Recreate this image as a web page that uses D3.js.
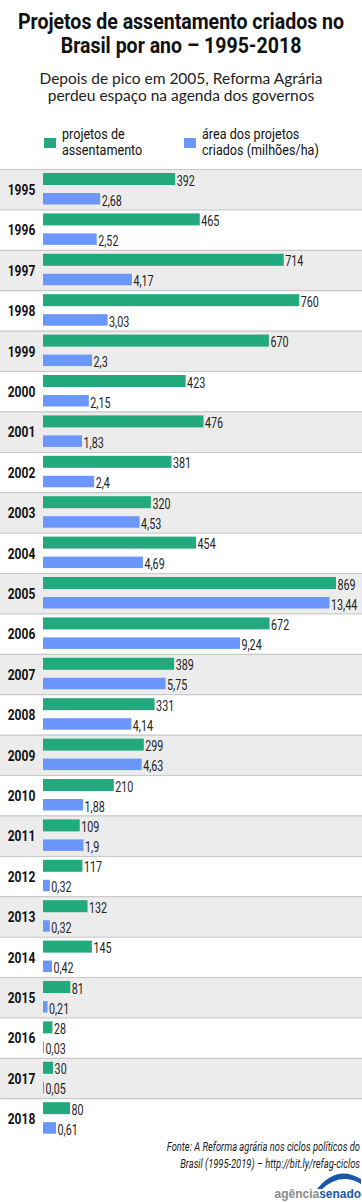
<!DOCTYPE html>
<html>
<head>
<meta charset="utf-8">
<script src="https://cdn.jsdelivr.net/npm/d3@7"></script>
<style>
  body { margin: 0; background: #fff; }
  svg { display: block; }
</style>
</head>
<body>
<div class="svg-container"></div>
<script>
// dados
var years = ["1995","1996","1997","1998","1999","2000","2001","2002","2003","2004","2005","2006",
             "2007","2008","2009","2010","2011","2012","2013","2014","2015","2016","2017","2018"];
var projetos = [392,465,714,760,670,423,476,381,320,454,869,672,389,331,299,210,109,117,132,145,81,28,30,80];
var area = [2.68,2.52,4.17,3.03,2.3,2.15,1.83,2.4,4.53,4.69,13.44,9.24,5.75,4.14,4.63,1.88,1.9,0.32,0.32,0.42,0.21,0.03,0.05,0.61];
var areaLabels = ["2,68","2,52","4,17","3,03","2,3","2,15","1,83","2,4","4,53","4,69","13,44","9,24",
                  "5,75","4,14","4,63","1,88","1,9","0,32","0,32","0,42","0,21","0,03","0,05","0,61"];
var titleLines = ["Projetos de assentamento criados no", "Brasil por ano – 1995-2018"];
var subtitleLines = ["Depois de pico em 2005, Reforma Agrária", "perdeu espaço na agenda dos governos"];
var sourceLines = ["Fonte: A Reforma agrária nos ciclos políticos do", "Brasil (1995-2019) – http://bit.ly/refag-ciclos"];
var legendItems = [
    {color: "#22aa7e", lines: ["projetos de", "assentamento"]},
    {color: "#6b96fb", lines: ["área dos projetos", "criados (milhões/ha)"]}
];

var FONT = "Roboto, 'Open Sans', sans-serif";

// texto "condensado": escala horizontal
function condText(parent, x, y, sx, size) {
    return parent.append("g")
        .attr("transform", "translate(" + x + "," + y + ") scale(" + sx + ",1)")
        .append("text")
        .attr("font-family", FONT)
        .attr("font-size", size);
}

// varias linhas num so texto, ajustado a largura da primeira linha
function multiLine(parent, x, y, lineH, size, lines, target) {
    var t = condText(parent, x, y, 1, size);
    t.selectAll("tspan")
        .data(lines)
        .enter().append("tspan")
        .attr("x", 0)
        .attr("y", function(d, i) { return i * lineH; })
        .text(function(d) { return d; });
    var w = t.select("tspan").node().getComputedTextLength();
    t.node().parentNode.setAttribute("transform",
        "translate(" + x + "," + y + ") scale(" + (target / w) + ",1)");
    return t;
}

function render() {
    var width = 362;
    var height = 1202;
    var green = "#22aa7e";
    var blue = "#6b96fb";
    var rowTop = 169;
    var rowH = 40.4;

    var svg = d3.select(".svg-container").append("svg")
        .attr("width", width)
        .attr("height", height);

    // titulo
    multiLine(svg, 181, 28.5, 24.5, 21.3, titleLines, 324)
        .attr("text-anchor", "middle")
        .attr("font-weight", "bold")
        .attr("fill", "#111");

    var sub = svg.append("text")
        .attr("text-anchor", "middle")
        .attr("font-family", "Lato, sans-serif")
        .attr("font-size", 15.5)
        .attr("fill", "#222");
    sub.selectAll("tspan")
        .data(subtitleLines)
        .enter().append("tspan")
        .attr("x", 181)
        .attr("y", function(d, i) { return 84 + i * 17; })
        .text(function(d) { return d; });

    // legenda
    legendItems.forEach(function(d, i) {
        var gx = 44 + i * 140;
        svg.append("rect")
            .attr("x", gx).attr("y", 138)
            .attr("width", 12).attr("height", 10)
            .attr("fill", d.color);
        var lt = condText(svg, gx + 18, 139, 0.84, 15).attr("fill", "#111");
        lt.selectAll("tspan")
            .data(d.lines)
            .enter().append("tspan")
            .attr("x", 0)
            .attr("y", function(l, j) { return j * 16; })
            .text(function(l) { return l; });
    });

    // escalas
    var y = d3.scaleBand()
        .domain(years)
        .range([rowTop, rowTop + rowH * years.length]);

    var xP = d3.scaleLinear().domain([0, 869]).range([43, 336]);
    var xA = d3.scaleLinear().domain([0, 13.44]).range([43, 329.5]);

    // linhas de fundo
    var rows = svg.selectAll(".row")
        .data(years)
        .enter().append("g")
        .attr("class", "row")
        .attr("transform", function(d) { return "translate(0," + y(d) + ")"; });

    rows.append("rect")
        .attr("x", 0).attr("y", 0)
        .attr("width", width)
        .attr("height", y.bandwidth())
        .attr("fill", function(d, i) { return i % 2 == 0 ? "#ececec" : "#fff"; });

    rows.append("line")
        .attr("x1", 0).attr("x2", width)
        .attr("y1", 0.5).attr("y2", 0.5)
        .attr("stroke", "#c9c9c9")
        .attr("stroke-width", 1.2);

    rows.each(function(d, i) {
        var row = d3.select(this);

        condText(row, 21.5, 26, 0.8, 15)
            .attr("text-anchor", "middle")
            .attr("font-weight", "bold")
            .attr("fill", "#111")
            .text(d);

        // barras
        row.append("rect")
            .attr("x", xP(0))
            .attr("y", 4)
            .attr("width", xP(projetos[i]) - xP(0))
            .attr("height", 12)
            .attr("fill", green);

        row.append("rect")
            .attr("x", xA(0))
            .attr("y", 24)
            .attr("width", Math.max(1, xA(area[i]) - xA(0)))
            .attr("height", 11.5)
            .attr("fill", blue);

        condText(row, xP(projetos[i]) + 1.5, 16.5, 0.74, 14.5)
            .attr("fill", "#222")
            .text(projetos[i]);

        condText(row, Math.max(xA(0) + 1, xA(area[i])) + 1.5, 36.5, 0.74, 14.5)
            .attr("fill", "#222")
            .text(areaLabels[i]);
    });

    // fonte
    multiLine(svg, 360, 1151, 17, 12, sourceLines, 199)
        .attr("text-anchor", "end")
        .attr("font-style", "italic")
        .attr("fill", "#222");

    // logo
    svg.append("path")
        .attr("d", "M317,1189 Q337,1164 361,1179 L361,1184 Q341,1172 322,1189 Z")
        .attr("fill", "#1b57a6");
    var logo = condText(svg, 361, 1198, 0.92, 13)
        .attr("text-anchor", "end")
        .attr("font-family", "'Liberation Sans', Arial, sans-serif")
        .attr("font-weight", "bold");
    logo.append("tspan").attr("fill", "#8a8a8a").text("agência");
    logo.append("tspan").attr("fill", "#1b57a6").text("senado");
}

render();
</script>
</body>
</html>
